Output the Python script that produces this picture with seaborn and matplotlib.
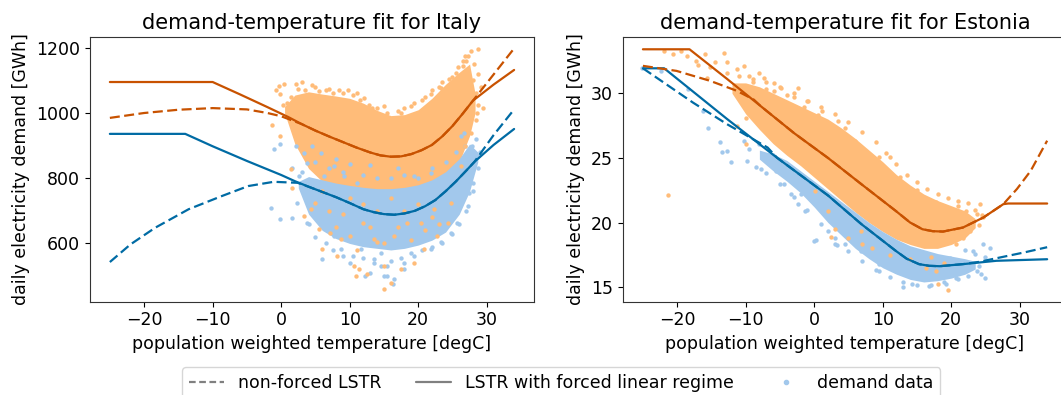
import matplotlib
matplotlib.use('Agg')
import matplotlib.pyplot as plt
from matplotlib.lines import Line2D
import seaborn as sns

sns.set_style('ticks', rc={'text.color': 'black', 'axes.labelcolor': 'black',
                           'xtick.color': 'black', 'ytick.color': 'black',
                           'axes.edgecolor': '.2'})
plt.rcParams['font.family'] = ['DejaVu Sans']

# colours (tableau colorblind)
c_or_line = '#C85200'
c_bl_line = '#006BA4'
c_or_dot = '#FFBC79'
c_bl_dot = '#A2C8EC'

# ---------------- Italy: fitted curves ----------------
it_or_solid_t = [-25, -10, -6, -2, 1, 3, 5, 7, 9, 11, 13, 14.5, 16, 17.5, 19, 20.5, 22, 23.5, 25, 26.5, 28, 31, 34]
it_or_solid_d = [1095, 1095, 1057, 1018, 988, 966, 946, 928, 911, 894, 879, 870, 866, 867, 874, 886, 902, 928, 960, 998, 1038, 1087, 1132]
it_or_dash_t = [-25, -20, -15, -10, -5, -2, 0, 1.5, 3, 5, 7, 9, 11, 13, 14.5, 16, 17.5, 19, 20.5, 22, 23.5, 25, 26.5, 28, 31, 34]
it_or_dash_d = [985, 1000, 1010, 1015, 1011, 1000, 990, 978, 966, 946, 928, 911, 894, 879, 870, 866, 867, 874, 886, 902, 928, 960, 998, 1038, 1118, 1198]

it_bl_solid_t = [-25, -14, -10, -5, 0, 2, 4, 6, 8, 10, 12, 13.5, 15, 16.5, 18, 19.5, 21, 22.5, 24, 25.5, 27, 28.2, 31, 34]
it_bl_solid_d = [936, 936, 898, 853, 810, 791, 774, 758, 742, 724, 705, 696, 690, 688, 692, 700, 714, 733, 760, 790, 823, 850, 902, 951]
it_bl_dash_t = [-25, -22, -18.4, -13.5, -8.7, -4.8, -1.1, 2.4, 4, 6, 8, 10, 12, 13.5, 15, 16.5, 18, 19.5, 21, 22.5, 24, 25.5, 27, 28.2, 31, 34]
it_bl_dash_d = [543, 597, 648, 705, 745, 776, 789, 786, 774, 758, 742, 724, 705, 696, 690, 688, 692, 700, 714, 733, 760, 790, 823, 850, 932, 1011]

# ---------------- Italy: demand data ----------------
it_or_band_t = [0.5, 2, 4, 6, 8, 10, 12, 14, 16, 18, 20, 22, 24, 26, 27.5, 28.3]
it_or_band_hi = [1020, 1055, 1065, 1058, 1052, 1045, 1030, 1008, 992, 995, 1010, 1045, 1088, 1125, 1150, 1060]
it_or_band_lo = [1000, 905, 830, 790, 770, 760, 755, 755, 755, 760, 765, 780, 800, 850, 930, 1000]
it_bl_band_t = [2.5, 4, 6, 8, 10, 12, 14, 16, 18, 20, 22, 24, 26, 27.5, 28.7]
it_bl_band_hi = [790, 805, 795, 785, 778, 772, 768, 768, 772, 780, 795, 820, 860, 905, 880]
it_bl_band_lo = [770, 690, 640, 615, 600, 590, 585, 580, 585, 595, 610, 635, 690, 760, 850]

it_or_pts_t = [-1.4, -0.8, -0.3, 0.4, -0.1, 0.9, 0.2, -0.2, 3.1, 1.4, 1.4, 1.6, 3.3, 5.5, 6.0, 8.2,
               10.6, 11.4, 10.9, 12.6, 10.1, 8.7, 7.2, 4.3, 5.0, 13.6, 15.0, 14.0, 11.9, 9.8, 12.1, 13.3,
               27.7, 28.7, 26.9, 26.5, 25.5, 23.3, 21.8, 19.4, 17.5, 29.4, 28.7, 28.4, 27.7, 26.9, 26.2,
               24.3, 22.8, 20.9, 19.4, 17.5, 16.0, 15.0, 20.4, 18.4, 22.3, 24.8, 16.5,
               7, 9, 12, 14, 16, 18, 20, 22, 6, 10, 13, 17, 19, 21, 23, 8, 11, 15,
               2.5, 5, 7, 8.5, 11, 15, 18, 20.5, 23, 25, 27, 28, 28.5, 1.5, 2,
               2.2, 3.5, 4.5, 5.5, 6.5, 7.5, 9, 10.5, 11.5, 12.8, 14, 15.5, 17, 19, 21, 22,
               23.5, 24.5, 25.8, 26.5, 27.3, 28.2, 28.8, 29.2, 28.6]
it_or_pts_d = [962, 1072, 1082, 1088, 1057, 1031, 1026, 929, 1096, 980, 827, 769, 684, 643, 582, 562,
               531, 521, 500, 505, 623, 613, 633, 705, 725, 613, 460, 603, 664, 1069, 1047, 1016,
               1190, 1195, 1174, 1144, 1123, 1077, 1057, 1031, 1001, 1016, 1026, 980, 939, 899, 837,
               664, 623, 582, 541, 521, 480, 531, 664, 664, 705, 725, 623,
               700, 690, 720, 700, 740, 700, 720, 680, 760, 740, 650, 650, 610, 640, 660, 650, 580, 600,
               1075, 1080, 1075, 1070, 1060, 1020, 1015, 1040, 1080, 1110, 1160, 1100, 1060, 1050, 1000,
               1090, 1070, 1085, 1068, 1072, 1060, 1062, 1055, 1040, 1025, 1015, 1000, 1005, 1020, 1050, 1070,
               1095, 1105, 1140, 1160, 1175, 1150, 1120, 1080, 1000]

it_bl_pts_t = [-1.1, -0.1, -1.5, -0.1, 1.6, 1.6, 2.1, 3.3, 3.8, 2.6, 4.5, 5.8, 6.3, 6.0, 8.7, 10.1,
               12.3, 13.6, 15.0, 15.5, 14.5, 11.6, 7.7, 4.8, 3.8, 2.3, 6.7, 9.2, 7.7, 11.1,
               28.7, 27.7, 28.0, 27.4, 27.2, 26.9, 26.7, 26.2, 25.7, 24.8, 23.3, 21.8, 19.4, 17.9, 16.5,
               15.5, 19.4, 21.8, 26.7, 16.3, 13, 18,
               5, 7, 9, 12, 14, 16, 18, 20, 22, 24, 25.5, 8, 13, 17, 3, 10, 27.8, 28.5,
               4, 5, 6.5, 7.5, 9, 10.5, 12, 13.5, 14.5, 16, 17.5, 19, 20.5, 22, 23.5, 25, 26, 27, 28, 28.8, 29]
it_bl_pts_d = [889, 904, 710, 674, 679, 832, 898, 878, 847, 806, 898, 878, 806, 552, 582, 541,
               500, 552, 500, 531, 572, 582, 623, 705, 664, 725, 684, 806, 837, 786,
               868, 837, 786, 755, 714, 899, 939, 929, 664, 633, 603, 582, 562, 521, 490,
               500, 806, 817, 827, 477, 510, 540,
               850, 830, 820, 810, 800, 800, 810, 800, 830, 850, 880, 860, 840, 830, 820, 845, 900, 920,
               660, 620, 600, 580, 560, 560, 555, 540, 530, 545, 555, 570, 580, 590, 600, 630, 660, 700, 760, 830, 880]

# ---------------- Estonia: fitted curves ----------------
es_or_solid_t = [-25, -18.2, -12.7, -7.8, -2.9, 2.0, 6.9, 11.9, 14, 15.8, 17.3, 18.8, 21.7, 24.7, 27.6, 28.3, 34]
es_or_solid_d = [33.4, 33.4, 31.1, 29.0, 26.9, 25.0, 22.96, 20.9, 20.0, 19.48, 19.33, 19.30, 19.61, 20.39, 21.42, 21.47, 21.47]
es_or_dash_t = [-25, -20.1, -15.2, -11.3, -8.8, -7.8, -2.9, 2.0, 6.9, 11.9, 14, 15.8, 17.3, 18.8, 21.7, 24.7, 27.6, 29.6, 31.6, 34]
es_or_dash_d = [32.12, 31.73, 30.96, 30.19, 29.5, 29.0, 26.9, 25.0, 22.96, 20.9, 20.0, 19.48, 19.33, 19.30, 19.61, 20.39, 21.42, 22.6, 24.0, 26.33]

es_bl_solid_t = [-25, -21.9, -12.7, -5.4, 2.0, 6.9, 11.9, 13.5, 15.3, 16.8, 18.3, 21.7, 26.6, 34]
es_bl_solid_d = [31.93, 31.93, 28.0, 25.0, 22.1, 19.87, 17.81, 17.2, 16.78, 16.65, 16.62, 16.78, 17.04, 17.16]
es_bl_dash_t = [-25, -17.7, -12.7, -6.8, -5.4, 2.0, 6.9, 11.9, 13.5, 15.3, 16.8, 18.3, 21.7, 24, 30.6, 34]
es_bl_dash_d = [31.93, 29.28, 27.6, 25.8, 25.0, 22.1, 19.87, 17.81, 17.2, 16.78, 16.65, 16.62, 16.78, 16.95, 17.68, 18.09]

# ---------------- Estonia: demand data ----------------
es_or_band_t = [-12, -10, -8, -6, -4, -2, 0, 2, 4, 6, 8, 10, 12, 14, 16, 18, 20, 22, 23.5]
es_or_band_hi = [30.8, 30.8, 30.5, 30.0, 29.5, 29.0, 28.5, 28.0, 27.3, 26.5, 25.6, 24.7, 23.7, 22.9, 22.2, 21.7, 21.3, 20.9, 20.3]
es_or_band_lo = [30.0, 28.4, 27.2, 26.1, 25.2, 24.4, 23.5, 22.6, 21.7, 20.8, 20.0, 19.3, 18.7, 18.3, 18.0, 18.0, 18.3, 18.8, 19.6]
es_bl_band_t = [-8, -6, -4, -2, 0, 2, 4, 6, 8, 10, 12, 14, 16, 18, 20, 22, 23.5]
es_bl_band_hi = [25.6, 25.3, 24.8, 24.0, 23.2, 22.4, 21.6, 20.8, 20.0, 19.3, 18.7, 18.2, 17.9, 17.6, 17.4, 17.2, 17.0]
es_bl_band_lo = [24.9, 24.0, 23.2, 22.3, 21.2, 20.0, 19.0, 18.0, 17.2, 16.5, 16.0, 15.6, 15.4, 15.5, 15.7, 16.0, 16.4]

es_or_pts_t = [-21.9, -20.6, -17.2, -16.9, -13.2, -14.5, -12.7, -10.3, -11.3, -12.7, -8.1, -7.3, -5.8, -5.8,
               -4.8, -2.4, -0.9, 1.1, -15.7, -15.2, -10.0, -11.3, -10.0, -6.8, -21.3, 0.1, 2.5, 2.0,
               3.5, 4.5, 6.0, 9.4, 11.1, 11.9, 13.8, 16.3, 17.8, 19.7, 22.2, 24.2, 23.7, 24.7, 22.7,
               21.7, 20.7, 17.8, 16.3, 18.0, 19.5, 13.8, 8.4, 5.0, 6.9,
               -9, -8.5, -7, -3, -1.5, 0.5, 2.5, 6.5, 12.5, 15, 21, -16, -18.5, -19.5, -9.5, -4,
               -11, -9, -7, -5, -3, -1, 1, 3, 5, 7, 9, 10.5, 12, 13.5, 15, 16.5, 18, 19.5, 21, 22.5,
               23.5, 24.5, 24, 3, 7, 11, 14, 17, 19]
es_or_pts_d = [33.28, 33.02, 32.5, 32.19, 33.15, 32.45, 32.38, 32.12, 31.86, 31.6, 31.6, 31.2, 30.82, 30.18,
               30.43, 30.43, 29.4, 28.6, 31.2, 32.0, 28.12, 27.48, 26.11, 26.84, 22.11, 22.44, 18.9, 20.9,
               27.87, 27.35, 26.32, 25.04, 25.04, 22.96, 22.19, 21.68, 21.55, 20.9, 20.9, 21.42, 20.65, 20.39, 19.35,
               18.83, 18.32, 16.26, 16.52, 15.23, 14.77, 18.83, 18.06, 18.83, 19.35,
               30.9, 29.8, 30.3, 29.7, 28.9, 28.3, 27.5, 25.8, 23.5, 22.5, 21.3, 33.0, 32.9, 33.3, 31.3, 29.9,
               31.3, 31.1, 30.9, 30.5, 30.0, 29.4, 28.9, 28.4, 27.8, 27.0, 26.2, 25.4, 24.5, 23.7, 23.1, 22.6,
               22.2, 21.9, 21.7, 21.5, 21.0, 20.6, 19.8, 19.5, 18.3, 17.5, 17.2, 17.3, 16.9]

es_bl_pts_t = [-25.2, -22.4, -18.4, -16.2, -15.5, -13.7, -12.7, -13.5, -12.2, -9.8, -8.5, -7.8, -9.5, -10.3,
               -8.1, 0.3, 3.3, 2.0, -4.4, -3.4, -2.4, -1.4, -5.6, -1.9, 24.7, 25.6, 23.2, 23.7, 24.9,
               21.7, 20.7, 19.3, 16.8, 14.3, 12.9, 11.9, 9.4, 9.4, 6.9, 4.5, 3.0, 19.8, 24.3, -6, -7, 0.0,
               -7, -5, -3, -1, 1, 3, 5, 7, 9, 11, 13, 15, 17, 19, 21, 22.5, 24, 25, 23.5, 22]
es_bl_pts_d = [31.93, 31.72, 30.3, 28.63, 27.35, 26.19, 25.55, 25.42, 24.7, 24.78, 24.27, 24.14, 25.68, 26.32,
               26.06, 18.63, 18.27, 19.35, 22.96, 22.19, 21.42, 20.9, 23.99, 22.19, 18.32, 18.06, 17.81, 16.26, 15.74,
               16.26, 15.74, 15.23, 15.1, 15.23, 15.0, 16.26, 16.26, 16.78, 17.81, 18.32, 18.32, 17.29, 16.05, 25.2, 24.9, 18.6,
               23.8, 23.0, 22.0, 21.0, 19.9, 18.8, 17.8, 17.0, 16.3, 15.8, 15.4, 15.2, 15.2, 15.4, 15.6, 15.9, 16.6, 17.3, 17.6, 17.9]

panels = [
    dict(title='demand-temperature fit for Italy',
         or_band=(it_or_band_t, it_or_band_lo, it_or_band_hi),
         bl_band=(it_bl_band_t, it_bl_band_lo, it_bl_band_hi),
         or_pts=(it_or_pts_t, it_or_pts_d), bl_pts=(it_bl_pts_t, it_bl_pts_d),
         or_solid=(it_or_solid_t, it_or_solid_d), or_dash=(it_or_dash_t, it_or_dash_d),
         bl_solid=(it_bl_solid_t, it_bl_solid_d), bl_dash=(it_bl_dash_t, it_bl_dash_d),
         ylim=(422, 1233), yticks=[600, 800, 1000, 1200]),
    dict(title='demand-temperature fit for Estonia',
         or_band=(es_or_band_t, es_or_band_lo, es_or_band_hi),
         bl_band=(es_bl_band_t, es_bl_band_lo, es_bl_band_hi),
         or_pts=(es_or_pts_t, es_or_pts_d), bl_pts=(es_bl_pts_t, es_bl_pts_d),
         or_solid=(es_or_solid_t, es_or_solid_d), or_dash=(es_or_dash_t, es_or_dash_d),
         bl_solid=(es_bl_solid_t, es_bl_solid_d), bl_dash=(es_bl_dash_t, es_bl_dash_d),
         ylim=(13.89, 34.35), yticks=[15, 20, 25, 30]),
]

fig = plt.figure(figsize=(10.61, 3.95), dpi=100)
axes = [fig.add_axes([0.0845, 0.2367, 0.4191, 0.6696]),
        fig.add_axes([0.5869, 0.2367, 0.4191, 0.6696])]

dash = (0, (4.5, 2.0))
for ax, p in zip(axes, panels):
    # dense part of the clouds
    t, lo, hi = p['or_band']
    ax.fill_between(t, lo, hi, color=c_or_dot, linewidth=0, zorder=1)
    t, lo, hi = p['bl_band']
    ax.fill_between(t, lo, hi, color=c_bl_dot, linewidth=0, zorder=1.1)
    # individual days
    sns.scatterplot(x=p['bl_pts'][0], y=p['bl_pts'][1], ax=ax, color=c_bl_dot, s=10,
                    linewidth=0, zorder=2)
    sns.scatterplot(x=p['or_pts'][0], y=p['or_pts'][1], ax=ax, color=c_or_dot, s=10,
                    linewidth=0, zorder=2)
    # fits
    sns.lineplot(x=p['bl_dash'][0], y=p['bl_dash'][1], ax=ax, color=c_bl_line, lw=1.6,
                 linestyle=dash, sort=False, estimator=None, zorder=3)
    sns.lineplot(x=p['bl_solid'][0], y=p['bl_solid'][1], ax=ax, color=c_bl_line, lw=1.6,
                 sort=False, estimator=None, zorder=3)
    sns.lineplot(x=p['or_dash'][0], y=p['or_dash'][1], ax=ax, color=c_or_line, lw=1.6,
                 linestyle=dash, sort=False, estimator=None, zorder=3)
    sns.lineplot(x=p['or_solid'][0], y=p['or_solid'][1], ax=ax, color=c_or_line, lw=1.6,
                 sort=False, estimator=None, zorder=3)

    ax.set_xlim(-27.95, 36.95)
    ax.set_ylim(*p['ylim'])
    ax.set_xticks([-20, -10, 0, 10, 20, 30])
    ax.set_yticks(p['yticks'])
    ax.tick_params(labelsize=12.5)
    ax.set_title(p['title'], fontsize=15)
    ax.set_xlabel('population weighted temperature [degC]', fontsize=12.5)
    ax.set_ylabel('daily electricity demand [GWh]', fontsize=12.5)

handles = [Line2D([], [], color='#808080', lw=1.6, linestyle=(0, (3.0, 1.6))),
           Line2D([], [], color='#808080', lw=1.6),
           Line2D([], [], color=c_bl_dot, linestyle='', marker='o', markersize=3)]
labels = ['non-forced LSTR', 'LSTR with forced linear regime', 'demand data']
fig.legend(handles, labels, loc='upper center', bbox_to_anchor=(0.529, 0.092),
           ncol=3, fontsize=12.5, frameon=True)

fig.savefig('out.png', dpi=100)
